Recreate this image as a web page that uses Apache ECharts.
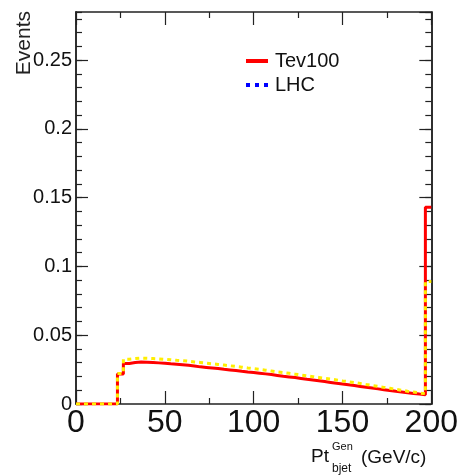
<!DOCTYPE html>
<html>
<head>
<meta charset="utf-8">
<title>Pt Gen bjet</title>
<script src="https://cdn.jsdelivr.net/npm/echarts@6/dist/echarts.min.js"></script>
<style>
  html, body { margin: 0; padding: 0; background: #fff; }
  #chart { width: 461px; height: 475px; }
</style>
</head>
<body>
<div id="chart"></div>
<script>
// Histogram range and binning (60 bins from 0 to 200 GeV/c)
const xMin = 0;
const xMax = 200;
const nBins = 60;

// Bin contents, normalised (last bin collects the overflow)
const tev100 = [
  0, 0, 0, 0, 0, 0, 0, 0.0218, 0.0295, 0.0302,
  0.0305, 0.0304, 0.0302, 0.0299, 0.0296, 0.0292, 0.0289, 0.0285, 0.0281, 0.0277,
  0.0270, 0.0266, 0.0262, 0.0258, 0.0252, 0.0248, 0.0244, 0.0238, 0.0233, 0.0229,
  0.0224, 0.0219, 0.0214, 0.0208, 0.0202, 0.0197, 0.0192, 0.0186, 0.0180, 0.0175,
  0.0169, 0.0163, 0.0157, 0.0151, 0.0146, 0.0140, 0.0134, 0.0128, 0.0122, 0.0116,
  0.0110, 0.0104, 0.0098, 0.0092, 0.0087, 0.0082, 0.0077, 0.0072, 0.0068, 0.1430
];
const lhc = [
  0, 0, 0, 0, 0, 0, 0, 0.0222, 0.0325, 0.0330,
  0.0333, 0.0332, 0.0330, 0.0328, 0.0325, 0.0322, 0.0318, 0.0315, 0.0311, 0.0306,
  0.0302, 0.0297, 0.0292, 0.0288, 0.0283, 0.0278, 0.0273, 0.0268, 0.0262, 0.0257,
  0.0252, 0.0246, 0.0240, 0.0234, 0.0229, 0.0223, 0.0217, 0.0211, 0.0205, 0.0199,
  0.0193, 0.0187, 0.0181, 0.0175, 0.0168, 0.0162, 0.0156, 0.0149, 0.0142, 0.0135,
  0.0128, 0.0121, 0.0114, 0.0107, 0.0100, 0.0093, 0.0087, 0.0080, 0.0075, 0.0890
];

// Axis settings
const yMax = 0.285;
const xTickStep = 50;
const yTickStep = 0.05;
const yMinorStep = 0.01;
const yTickLabels = ['0', '0.05', '0.1', '0.15', '0.2', '0.25'];

const seriesNames = ['Tev100', 'LHC'];

// Turn bin contents into step points: one point at each lower edge,
// plus the upper edge of the last bin.
function histPoints(values) {
  const w = (xMax - xMin) / nBins;
  const pts = [[xMin, 0]];
  values.forEach((v, i) => pts.push([xMin + i * w, v]));
  pts.push([xMax, values[values.length - 1]]);
  return pts;
}

const FONT = 'Liberation Sans, Arial, Helvetica, sans-serif';
const AX = '#222';

const chart = echarts.init(document.getElementById('chart'), null, { renderer: 'canvas' });

function xAxisDef(position, showLabels) {
  return {
    type: 'value', position: position, min: xMin, max: xMax, interval: xTickStep,
    axisLine: { show: true, onZero: false, lineStyle: { color: AX, width: 1.5 } },
    axisTick: { show: true, inside: true, length: 13, lineStyle: { color: AX, width: 1.2 } },
    minorTick: { show: true, splitNumber: 2, length: 6, lineStyle: { color: AX, width: 1.2 } },
    splitLine: { show: false },
    axisLabel: {
      show: showLabels, fontSize: 32, fontFamily: FONT, color: '#111', margin: 3,
      formatter: v => String(v)
    }
  };
}

function yAxisDef(position, step, tickLen, showLabels) {
  return {
    type: 'value', position: position, min: 0, max: yMax, interval: step,
    axisLine: { show: true, onZero: false, lineStyle: { color: AX, width: 1.5 } },
    axisTick: { show: true, inside: true, length: tickLen, lineStyle: { color: AX, width: 1.2 } },
    splitLine: { show: false },
    axisLabel: {
      show: showLabels, fontSize: 20, fontFamily: FONT, color: '#111', margin: 4,
      showMaxLabel: false,
      formatter: v => {
        const k = Math.round(v / yTickStep);
        return Math.abs(k * yTickStep - v) < 1e-9 && k < yTickLabels.length ? yTickLabels[k] : '';
      }
    }
  };
}

chart.setOption({
  animation: false,
  backgroundColor: '#fff',
  grid: { left: 76, right: 28, top: 12, bottom: 71, containLabel: false },
  xAxis: [xAxisDef('bottom', true), xAxisDef('top', false)],
  yAxis: [
    yAxisDef('left', yTickStep, 12, true),
    yAxisDef('left', yMinorStep, 6, false),
    yAxisDef('right', yTickStep, 12, false),
    yAxisDef('right', yMinorStep, 6, false)
  ],
  series: [
    {
      name: seriesNames[0], type: 'line', step: 'end', symbol: 'none',
      xAxisIndex: 0, yAxisIndex: 0, z: 3,
      lineStyle: { color: '#ff0000', width: 3 },
      data: histPoints(tev100)
    },
    {
      name: seriesNames[1], type: 'line', step: 'end', symbol: 'none',
      xAxisIndex: 0, yAxisIndex: 0, z: 4,
      lineStyle: { color: '#ffee00', width: 3, type: [4, 4] },
      data: histPoints(lhc)
    }
  ],
  graphic: [
    // Legend
    { type: 'line', shape: { x1: 246, y1: 61, x2: 268, y2: 61 },
      style: { stroke: '#ff0000', lineWidth: 4 } },
    { type: 'text', x: 275, y: 61,
      style: { text: seriesNames[0], font: '20px ' + FONT, fill: '#111', verticalAlign: 'middle' } },
    { type: 'line', shape: { x1: 246, y1: 85, x2: 268, y2: 85 },
      style: { stroke: '#0000ff', lineWidth: 4, lineDash: [4, 5] } },
    { type: 'text', x: 275, y: 85,
      style: { text: seriesNames[1], font: '20px ' + FONT, fill: '#111', verticalAlign: 'middle' } },
    // Y title
    { type: 'text', x: 24, y: 11, rotation: Math.PI / 2,
      style: { text: 'Events', font: '21px ' + FONT, fill: '#222', align: 'right', verticalAlign: 'middle' } },
    // X title: Pt with Gen superscript and bjet subscript
    { type: 'text', x: 311, y: 457,
      style: { text: 'Pt', font: '19px ' + FONT, fill: '#111', verticalAlign: 'middle' } },
    { type: 'text', x: 332, y: 447,
      style: { text: 'Gen', font: '11px ' + FONT, fill: '#111', verticalAlign: 'middle' } },
    { type: 'text', x: 332, y: 469,
      style: { text: 'bjet', font: '12px ' + FONT, fill: '#111', verticalAlign: 'middle' } },
    { type: 'text', x: 361, y: 458,
      style: { text: '(GeV/c)', font: '19px ' + FONT, fill: '#111', verticalAlign: 'middle' } }
  ]
});
</script>
</body>
</html>
